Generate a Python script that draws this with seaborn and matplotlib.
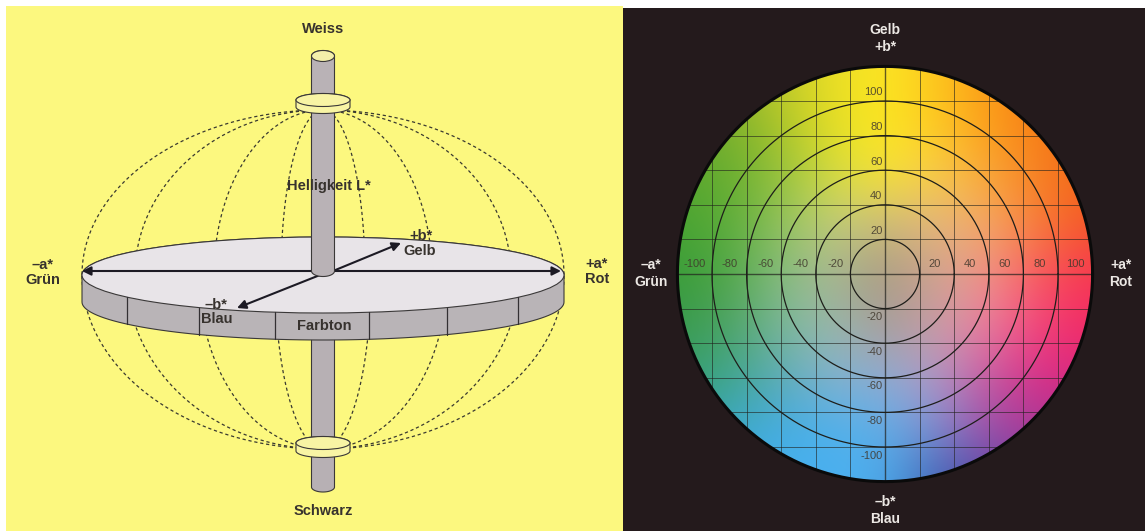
import numpy as np
import pandas as pd
import matplotlib.pyplot as plt
from matplotlib.colors import to_rgb
from matplotlib.patches import Circle, Ellipse, Polygon
import seaborn as sns

# a*/b* values printed on the colour disc
ring_values = [20, 40, 60, 80, 100, 120]
grid_values = [-100, -80, -60, -40, -20, 0, 20, 40, 60, 80, 100]
a_ticks = [-100, -80, -60, -40, -20, 20, 40, 60, 80, 100]
b_ticks = [100, 80, 60, 40, 20, -20, -40, -60, -80, -100]

# half widths of the dashed meridians (upper and lower half of the sphere)
upper_widths = [241, 188, 109, 42]
lower_widths = [241, 196, 124, 48]
divider_offsets = [-196, -124, -48, 46, 124, 195]

row_b120 = ['#8fb530', '#9fbb2e', '#c4cc2c', '#ecdf26', '#fde724', '#fdc71f', '#fc9c18', '#f67a14', '#f26c14']
row_b90 = ['#74ac32', '#7cb02c', '#b0c528', '#e8df24', '#fde81f', '#fdc71f', '#fc9c18', '#f77c16', '#f26a16']
row_b60 = ['#5aa62e', '#68ae2e', '#94c13a', '#d8dd3c', '#fbe630', '#f9cf48', '#faa632', '#f77f1e', '#f16618']
row_b30 = ['#48a432', '#5aac38', '#92c25c', '#c4d07c', '#cdbc7a', '#e6b77c', '#f5a964', '#f87b34', '#f55624']
row_b0 = ['#389c38', '#50a646', '#86bd80', '#a9b692', '#a5977f', '#cfa592', '#f39288', '#f7565c', '#f73552']
row_bm30 = ['#389a4c', '#4ca264', '#7ab79a', '#9bbaac', '#a89b97', '#c99fa8', '#ee7ca0', '#f44078', '#f12864']
row_bm60 = ['#349f6e', '#3ea58c', '#5cacb8', '#84b2d2', '#8eacd5', '#b398c6', '#c856a0', '#d82c88', '#dd2680']
row_bm90 = ['#36a5a0', '#3aa8ca', '#44ade3', '#4cb1ec', '#5eafe8', '#7c8dd0', '#9c4ea8', '#a93695', '#a93695']
row_bm120 = ['#3aa8ca', '#44ade3', '#46afef', '#4bb1f2', '#4caaea', '#3c60b2', '#5846a6', '#783ea0', '#a93695']
colour_rows = [row_b120, row_b90, row_b60, row_b30, row_b0, row_bm30, row_bm60, row_bm90, row_bm120]

YELLOW = '#fcf87f'
DARK = '#241a1c'
INK = '#37322e'
W, H = 1145, 531

sns.set_theme(style='white')
plt.rcParams['font.family'] = ['Liberation Sans', 'DejaVu Sans']

fig = plt.figure(figsize=(W / 100, H / 100), dpi=100, facecolor='white')


def panel(x0, y0, x1, y1):
    return fig.add_axes([x0 / W, 1 - y1 / H, (x1 - x0) / W, (y1 - y0) / H])


def cylinder(ax, cx, cy, a, b, h, side, top, z):
    # side wall first, then the lid
    t = np.linspace(0, np.pi, 80)
    xs = np.r_[cx + a * np.cos(t), cx - a * np.cos(t)]
    ys = np.r_[cy + h + b * np.sin(t), cy - b * np.sin(t)]
    ax.add_patch(Polygon(np.c_[xs, ys], fc=side, ec='#3a3838', lw=0.8, zorder=z))
    ax.add_patch(Ellipse((cx, cy), 2 * a, 2 * b, fc=top, ec='#3a3838', lw=0.8, zorder=z + 0.1))


def label(ax, x, y, s, color=INK, size=10.5):
    ax.text(x, y, s, color=color, fontsize=size, fontweight='bold', ha='center', va='center', zorder=20)


# LEFT PANEL, sphere drawing in pixel coordinates
ax = panel(6, 6, 623, 531)
ax.set_facecolor(YELLOW)
cx, eq = 323, 275
top_pole, bottom_pole = 110, 449
t = np.linspace(0, np.pi / 2, 120)
dash_style = dict(color='#3a3a30', lw=0.9, linestyle=(0, (2.6, 2.2)), sort=False, estimator=None, ax=ax, zorder=1)
for w in upper_widths:
    for sign in (-1, 1):
        sns.lineplot(x=cx + sign * w * np.sin(t), y=eq - (eq - top_pole) * np.cos(t), **dash_style)
for w in lower_widths:
    for sign in (-1, 1):
        sns.lineplot(x=cx + sign * w * np.sin(t), y=eq + (bottom_pole - eq) * np.cos(t), **dash_style)

# lower rod sits under the disc, its lid is hidden
cylinder(ax, cx, 325, 11.5, 5, 162, '#b7b0b4', '#b7b0b4', 1.5)

# colour disc with its hue segments
disc_a, disc_b, disc_h = 241, 38, 27
cylinder(ax, cx, eq, disc_a, disc_b, disc_h, '#b9b4b7', '#e8e4e8', 2)
for off in divider_offsets:
    edge = eq + disc_b * np.sqrt(1 - (off / disc_a) ** 2)
    ax.plot([cx + off, cx + off], [edge, edge + disc_h], color='#333033', lw=0.9, zorder=2.5)

arrow = dict(color='#1c1a24', lw=1.5, shrinkA=0, shrinkB=0, mutation_scale=13)
ax.annotate('', xy=(82, 271), xytext=(561, 271), arrowprops=dict(arrowstyle='<|-|>', **arrow), zorder=2.8)
ax.annotate('', xy=(401, 243), xytext=(333, 271), arrowprops=dict(arrowstyle='-|>', **arrow), zorder=2.8)
ax.annotate('', xy=(237, 308), xytext=(320, 275), arrowprops=dict(arrowstyle='-|>', **arrow), zorder=2.8)

# upper rod and the two rings
cylinder(ax, cx, 56, 11.5, 5.5, 215, '#b9b2b6', '#f3efaa', 3)
cylinder(ax, cx, 100, 27, 6.5, 7, '#f8f4a4', '#f8f4a4', 4)
cylinder(ax, cx, 443, 27, 6.5, 8, '#f8f4a4', '#f8f4a4', 4)

label(ax, cx, 29, 'Weiss')
label(ax, cx, 511, 'Schwarz')
label(ax, 329, 186, 'Helligkeit L*')
label(ax, 43, 265, '–a*')
label(ax, 43, 280, 'Grün')
label(ax, 597, 264, '+a*')
label(ax, 597, 279, 'Rot')
label(ax, 421, 236, '+b*')
label(ax, 420, 251, 'Gelb')
label(ax, 216, 305, '–b*')
label(ax, 217, 319, 'Blau')
label(ax, 324, 326, 'Farbton')
ax.set_xlim(6, 623)
ax.set_ylim(531, 6)
ax.set_xticks([])
ax.set_yticks([])
for s in ax.spines.values():
    s.set_visible(False)

# RIGHT PANEL, colour disc in a*/b* units
unit = 1.73
px0, py0 = 885, 274
ax2 = panel(623, 8, 1145, 531)
ax2.set_facecolor(DARK)
rgb = np.array([[to_rgb(c) for c in row] for row in colour_rows])
outer = max(ring_values)
disc = Circle((0, 0), outer, transform=ax2.transData)
im = ax2.imshow(rgb, extent=[-135, 135, -135, 135], origin='upper', interpolation='bicubic', zorder=1)
im.set_clip_path(disc)

for v in grid_values:
    span = np.sqrt(outer ** 2 - v ** 2)
    lw = 1.0 if v == 0 else 0.6
    ax2.plot([-span, span], [v, v], color='#20201c', lw=lw, alpha=0.7, zorder=2)
    ax2.plot([v, v], [-span, span], color='#20201c', lw=lw, alpha=0.7, zorder=2)

theta = np.linspace(0, 2 * np.pi, 361)
rings = pd.concat([pd.DataFrame({'a': r * np.cos(theta), 'b': r * np.sin(theta), 'ring': r})
                   for r in ring_values[:-1]])
sns.lineplot(data=rings, x='a', y='b', units='ring', estimator=None, sort=False, color='#1e1e1a', lw=0.9,
             ax=ax2, zorder=3)
ax2.plot(outer * np.cos(theta), outer * np.sin(theta), color='#0a0a0a', lw=2.2, zorder=3)

tick_color = '#3f372c'
for v in a_ticks:
    pos = np.sign(v) * (abs(v) * 1.02 + 8)
    ax2.text(pos, 5.5, str(v), color=tick_color, alpha=0.85, fontsize=8, ha='center', va='center', zorder=5)
for v in b_ticks:
    pos = np.sign(v) * (abs(v) + 5)
    ax2.text(-1.5, pos, str(v), color=tick_color, alpha=0.85, fontsize=8, ha='right', va='center', zorder=5)


def white_label(px, py, s):
    label(ax2, (px - px0) / unit, (py0 - py) / unit, s, color='#ece8e4', size=10)


white_label(885, 30, 'Gelb')
white_label(885, 47, '+b*')
white_label(885, 502, '–b*')
white_label(885, 519, 'Blau')
white_label(651, 265, '–a*')
white_label(651, 282, 'Grün')
white_label(1121, 265, '+a*')
white_label(1121, 282, 'Rot')

ax2.set_xlim((623 - px0) / unit, (1145 - px0) / unit)
ax2.set_ylim((py0 - 531) / unit, (py0 - 8) / unit)
ax2.set_aspect('auto')
ax2.set_xlabel('')
ax2.set_ylabel('')
ax2.set_xticks([])
ax2.set_yticks([])
for s in ax2.spines.values():
    s.set_visible(False)

fig.savefig('out.png', dpi=100)
